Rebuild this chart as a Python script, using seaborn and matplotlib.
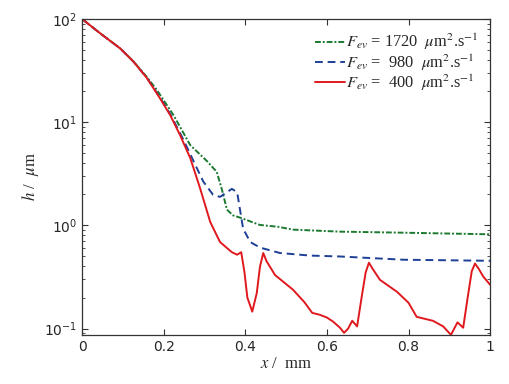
import numpy as np
import pandas as pd
import seaborn as sns
import matplotlib
matplotlib.use("Agg")
import matplotlib.pyplot as plt
from matplotlib.ticker import FixedLocator, FixedFormatter, LogLocator, NullFormatter

# values (x in mm, h in um)
x_red = [0, 0.044, 0.093, 0.126, 0.159, 0.191, 0.216, 0.24, 0.265, 0.289, 0.314, 0.338,
         0.367, 0.38, 0.39, 0.398, 0.405, 0.417, 0.428, 0.436, 0.444, 0.452, 0.473, 0.517,
         0.545, 0.564, 0.583, 0.60, 0.615, 0.632, 0.642, 0.652, 0.662, 0.674, 0.685, 0.695,
         0.703, 0.712, 0.73, 0.772, 0.80, 0.82, 0.86, 0.885, 0.904, 0.912, 0.92, 0.934,
         0.945, 0.955, 0.963, 0.972, 0.983, 1.0]
h_red = [100, 72.8, 52, 38.6, 26.7, 17, 11.7, 7.5, 4.5, 2.3, 1.08, 0.69,
         0.55, 0.52, 0.55, 0.35, 0.2, 0.146, 0.22, 0.4, 0.54, 0.45, 0.33, 0.238,
         0.18, 0.142, 0.136, 0.128, 0.117, 0.102, 0.091, 0.1, 0.119, 0.105, 0.2, 0.35,
         0.435, 0.38, 0.297, 0.227, 0.178, 0.13, 0.119, 0.105, 0.087, 0.1, 0.115, 0.102,
         0.2, 0.36, 0.427, 0.38, 0.32, 0.266]

x_blue = [0, 0.044, 0.093, 0.126, 0.159, 0.191, 0.216, 0.248, 0.273, 0.297, 0.321, 0.338,
          0.355, 0.367, 0.38, 0.387, 0.395, 0.40, 0.412, 0.436, 0.485, 0.559, 0.632, 0.787,
          1.0]
h_blue = [100, 72.8, 52, 38.6, 26.8, 17.3, 12.0, 6.8, 4.2, 2.66, 1.98, 1.89,
          2.1, 2.26, 2.1, 1.42, 0.91, 0.85, 0.69, 0.61, 0.54, 0.51, 0.50, 0.465,
          0.454]

x_green = [0, 0.044, 0.093, 0.126, 0.159, 0.183, 0.224, 0.265, 0.306, 0.33, 0.343, 0.355,
           0.37, 0.387, 0.436, 0.48, 0.517, 0.583, 0.632, 0.787, 1.0]
h_green = [100, 72.8, 52, 38.8, 27.3, 20.6, 11.7, 6.0, 4.2, 3.3, 2.2, 1.42,
           1.25, 1.19, 1.01, 0.97, 0.91, 0.887, 0.87, 0.85, 0.82]

labels = [r'$F_{ev}$ = 1720  $\mu$m$^2$.s$^{-1}$',
          r'$F_{ev}$ =  980  $\mu$m$^2$.s$^{-1}$',
          r'$F_{ev}$ =  400  $\mu$m$^2$.s$^{-1}$']
xticks = [0, 0.2, 0.4, 0.6, 0.8, 1.0]
xtick_labels = ['0', '0.2', '0.4', '0.6', '0.8', '1']

sns.set_style("ticks")
plt.rcParams['mathtext.fontset'] = 'stix'
plt.rcParams['font.family'] = ['DejaVu Sans']
plt.rcParams['xtick.direction'] = 'in'
plt.rcParams['ytick.direction'] = 'in'

fig = plt.figure(figsize=(5.1, 3.84), dpi=100)
ax = fig.add_axes([0.161, 0.128, 0.8, 0.8225])

series = [(x_green, h_green, '#1b7a30', (0, (3, 1, 1, 1)), labels[0]),
          (x_blue, h_blue, '#1d3f96', (0, (4, 2.5)), labels[1]),
          (x_red, h_red, '#e0191e', '-', labels[2])]
for xs, hs, col, ls, lab in series:
    df = pd.DataFrame({'x': xs, 'h': hs})
    sns.lineplot(data=df, x='x', y='h', ax=ax, color=col, linestyle=ls, linewidth=1.4,
                 label=lab, estimator=None, sort=False)

ax.set_yscale('log')
ax.set_xlim(0, 1)
ax.set_ylim(0.087, 100)
ax.xaxis.set_major_locator(FixedLocator(xticks))
ax.xaxis.set_major_formatter(FixedFormatter(xtick_labels))
ax.yaxis.set_major_locator(LogLocator(base=10, numticks=10))
ax.yaxis.set_minor_locator(LogLocator(base=10, subs=np.arange(2, 10), numticks=20))
ax.yaxis.set_minor_formatter(NullFormatter())
ax.tick_params(which='both', top=True, right=True, labelsize=10, color='#333333')
ax.tick_params(which='major', length=4)
ax.tick_params(which='minor', length=2)
for s in ax.spines.values():
    s.set_linewidth(0.9)
    s.set_color('#333333')

ax.set_xlabel(r'$x$ /  mm', fontsize=12, family='Liberation Serif', labelpad=2)
ax.set_ylabel(r'$h$ /  $\mu$m', fontsize=12, family='Liberation Serif', labelpad=2)

leg = ax.legend(loc='upper right', frameon=False, handlelength=1.8,
                handletextpad=0.1, labelspacing=0.0, borderaxespad=0.3,
                bbox_to_anchor=(1.0, 0.995),
                prop={'family': 'Liberation Serif', 'size': 11.8})

fig.savefig('out.png', dpi=100)
